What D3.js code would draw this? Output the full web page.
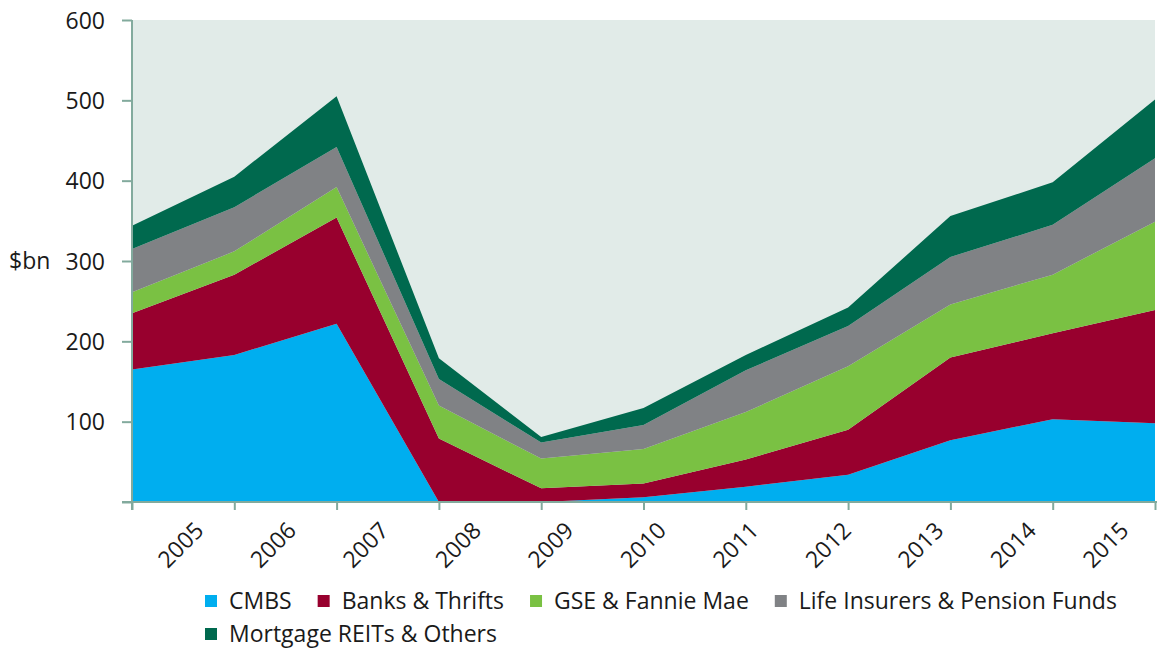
<!DOCTYPE html>
<html>
<head>
<meta charset="utf-8">
<script src="https://cdn.jsdelivr.net/npm/d3@7"></script>
<style>
  body { margin: 0; background: #fff; }
  svg text { font-family: "Open Sans", "Noto Sans", sans-serif; fill: #1a1a1a; }
  .axis path, .axis line { stroke: #82aa9d; stroke-width: 2; }
</style>
</head>
<body>
<div id="chart"></div>
<script>
// years on the x axis
var years = [2005, 2006, 2007, 2008, 2009, 2010, 2011, 2012, 2013, 2014, 2015]

// $bn
var cmbs      = [165, 183, 222,   0,  0,  6, 19, 34,  77, 103,  98]
var banks     = [ 70, 100, 132,  79, 17, 17, 34, 56, 103, 107, 141]
var gse       = [ 26,  29,  38,  41, 37, 43, 59, 79,  66,  73, 110]
var lifeIns   = [ 54,  55,  50,  33, 20, 30, 52, 50,  59,  62,  79]
var reits     = [ 29,  38,  63,  26,  7, 21, 19, 23,  51,  53,  73]

var seriesNames = ["CMBS", "Banks & Thrifts", "GSE & Fannie Mae", "Life Insurers & Pension Funds", "Mortgage REITs & Others"]
var seriesKeys = ["cmbs", "banks", "gse", "life", "reits"]
var colors = ["#00aeef", "#98002e", "#7ac143", "#808285", "#00694e"]
var yTicks = [100, 200, 300, 400, 500, 600]

var W = 1158, H = 651
var margin = {left: 132, right: 3, top: 20, bottom: 149}
var width = W - margin.left - margin.right
var height = H - margin.top - margin.bottom

var table = years.map(function(y, i){
  return {year: y, cmbs: cmbs[i], banks: banks[i], gse: gse[i], life: lifeIns[i], reits: reits[i]}
})

var stack = d3.stack().keys(seriesKeys)
var layers = stack(table)

var svg = d3.select('#chart').append('svg')
  .attr('width', W).attr('height', H)

var g = svg.append('g').attr('transform', 'translate(' + margin.left + ',' + margin.top + ')')

var x = d3.scalePoint().domain(years).range([0, width])
var y = d3.scaleLinear().domain([0, 600]).range([height, 0])
// the category labels sit on their own slightly narrower spacing
var xLab = d3.scalePoint().domain(years).range([73, 998])

g.append('rect')
  .attr('width', width).attr('height', height)
  .attr('fill', '#e1ebe8')

var area = d3.area()
  .x(function(d){ return x(d.data.year) })
  .y0(function(d){ return y(d[0]) })
  .y1(function(d){ return y(d[1]) })

g.selectAll('path.layer').data(layers).enter().append('path')
  .attr('class', 'layer')
  .attr('d', area)
  .attr('fill', function(d, i){ return colors[i] })

// y axis
var yAxis = g.append('g').attr('class', 'axis')
  .call(d3.axisLeft(y).tickValues([0].concat(yTicks)).tickSize(10).tickFormat(function(d){ return d === 0 ? '' : d }))
yAxis.select('.domain').attr('d', 'M0,0V' + (height + 8))
yAxis.selectAll('text').attr('x', -27).attr('dy', '0.35em').style('font-size', '23px')

// x axis
var xAxis = g.append('g').attr('class', 'axis')
  .attr('transform', 'translate(0,' + height + ')')
  .call(d3.axisBottom(x).tickSize(8).tickFormat(''))
xAxis.select('.domain').attr('d', 'M-10,0H' + (width + 2))

g.selectAll('text.xlab').data(years).enter().append('text')
  .attr('class', 'xlab')
  .attr('text-anchor', 'end')
  .attr('transform', function(d){ return 'translate(' + xLab(d) + ',' + (height + 30) + ') rotate(-45)' })
  .style('font-size', '23px')
  .text(function(d){ return d })

svg.append('text')
  .attr('x', 9).attr('y', margin.top + y(300))
  .attr('dy', '0.35em')
  .style('font-size', '23px')
  .text('$bn')

// legend, flowed in rows
var legend = svg.append('g')
var lx = 205, ly = 601, rowH = 33
seriesNames.forEach(function(name, i){
  var item = legend.append('g')
  item.append('rect').attr('width', 12).attr('height', 12).attr('y', -6).attr('fill', colors[i])
  var t = item.append('text').attr('x', 24).attr('dy', '0.35em').style('font-size', '23px').text(name)
  var w = 24 + t.node().getComputedTextLength()
  if (lx + w > 1150) { lx = 205; ly += rowH }
  item.attr('transform', 'translate(' + lx + ',' + ly + ')')
  lx += w + 26
})
</script>
</body>
</html>
